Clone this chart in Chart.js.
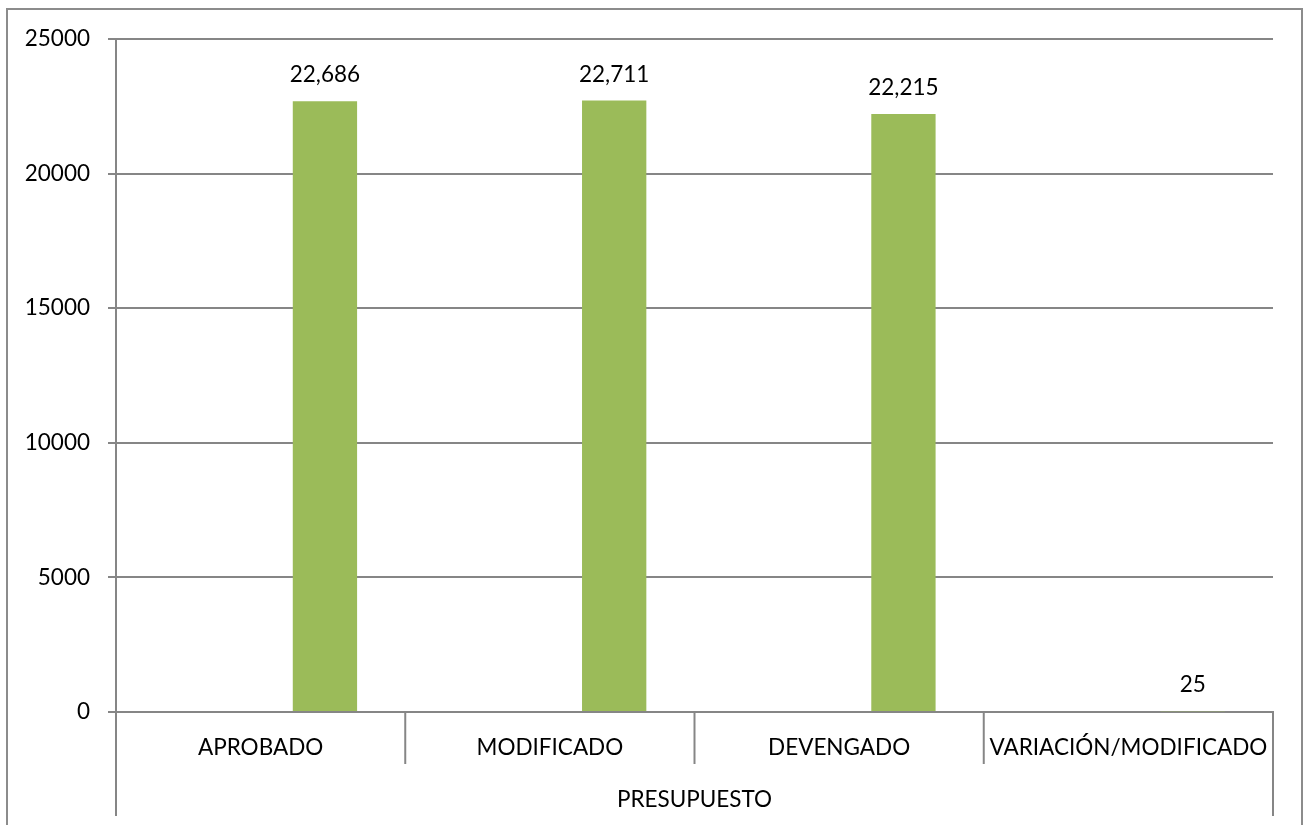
<!DOCTYPE html>
<html>
<head>
<meta charset="utf-8">
<script src="https://cdn.jsdelivr.net/npm/chart.js@4/dist/chart.umd.min.js"></script>
<style>
  html, body { margin: 0; padding: 0; background: #ffffff; }
  #wrap { width: 1309px; height: 825px; position: relative; }
</style>
</head>
<body>
<div id="wrap"><canvas id="c"></canvas></div>
<script>
const categories = ['APROBADO', 'MODIFICADO', 'DEVENGADO', 'VARIACIÓN/MODIFICADO'];
const groupLabel = 'PRESUPUESTO';
const seriesA = [null, null, null, null];
const seriesB = [null, null, null, null];
const seriesC = [22686, 22711, 22215, 25];
const yTicks = [0, 5000, 10000, 15000, 20000, 25000];

const FONT = 'Lato';
const FSIZE = 22.5;
const GRID = '#868686';
const BAR = '#9BBB59';

const framePlugin = {
  id: 'frame',
  beforeDraw(chart) {
    const ctx = chart.ctx;
    ctx.save();
    ctx.strokeStyle = '#8c8c8c';
    ctx.lineWidth = 2;
    ctx.strokeRect(7, 9, chart.width - 14, chart.height + 20);
    ctx.restore();
  }
};

const dividerPlugin = {
  id: 'dividers',
  afterDraw(chart) {
    const xs = chart.scales.x;
    const ctx = chart.ctx;
    const n = categories.length;
    const w = (xs.right - xs.left) / n;
    const y0 = chart.chartArea.bottom;
    ctx.save();
    ctx.strokeStyle = GRID;
    ctx.lineWidth = 2;
    for (let i = 0; i <= n; i++) {
      const x = xs.left + i * w;
      const len = (i === 0 || i === n) ? 104 : 52;
      ctx.beginPath();
      ctx.moveTo(x, y0);
      ctx.lineTo(x, y0 + len);
      ctx.stroke();
    }
    ctx.restore();
  }
};

const labelPlugin = {
  id: 'barLabels',
  afterDatasetsDraw(chart) {
    const ctx = chart.ctx;
    ctx.save();
    ctx.font = FSIZE + 'px ' + FONT;
    ctx.fillStyle = '#000000';
    ctx.textAlign = 'center';
    ctx.textBaseline = 'alphabetic';
    chart.data.datasets.forEach((ds, di) => {
      const meta = chart.getDatasetMeta(di);
      meta.data.forEach((el, i) => {
        const v = ds.data[i];
        if (v === null || v === undefined) return;
        ctx.fillText(v.toLocaleString('en-US'), el.x, el.y - 19);
      });
    });
    ctx.restore();
  }
};

const common = { backgroundColor: BAR, borderWidth: 0, categoryPercentage: 0.667, barPercentage: 1.0 };

new Chart(document.getElementById('c'), {
  type: 'bar',
  data: {
    labels: categories,
    datasets: [
      Object.assign({ label: 'A', data: seriesA }, common),
      Object.assign({ label: 'B', data: seriesB }, common),
      Object.assign({ label: 'C', data: seriesC }, common)
    ]
  },
  options: {
    responsive: true,
    maintainAspectRatio: false,
    devicePixelRatio: 1,
    animation: false,
    layout: { padding: { left: 0, right: 36, top: 39, bottom: 0 } },
    plugins: { legend: { display: false }, tooltip: { enabled: false } },
    scales: {
      x: {
        grid: { display: false, drawTicks: false },
        border: { display: true, color: GRID, width: 2 },
        ticks: { color: '#000', font: { family: FONT, size: FSIZE }, padding: 22, maxRotation: 0, autoSkip: false },
        title: { display: true, text: groupLabel, color: '#000', font: { family: FONT, size: FSIZE }, padding: { top: 0, bottom: 12 } },
        afterFit(scale) { scale.height = 113; }
      },
      y: {
        min: 0,
        max: 25000,
        afterBuildTicks(scale) { scale.ticks = yTicks.map(v => ({ value: v })); },
        grid: { color: GRID, lineWidth: 2, tickLength: 8 },
        border: { display: true, color: GRID, width: 2 },
        ticks: { color: '#000', font: { family: FONT, size: FSIZE }, padding: 18, callback: v => String(v) },
        afterFit(scale) { scale.width = 116; }
      }
    }
  },
  plugins: [framePlugin, dividerPlugin, labelPlugin]
});
</script>
</body>
</html>
